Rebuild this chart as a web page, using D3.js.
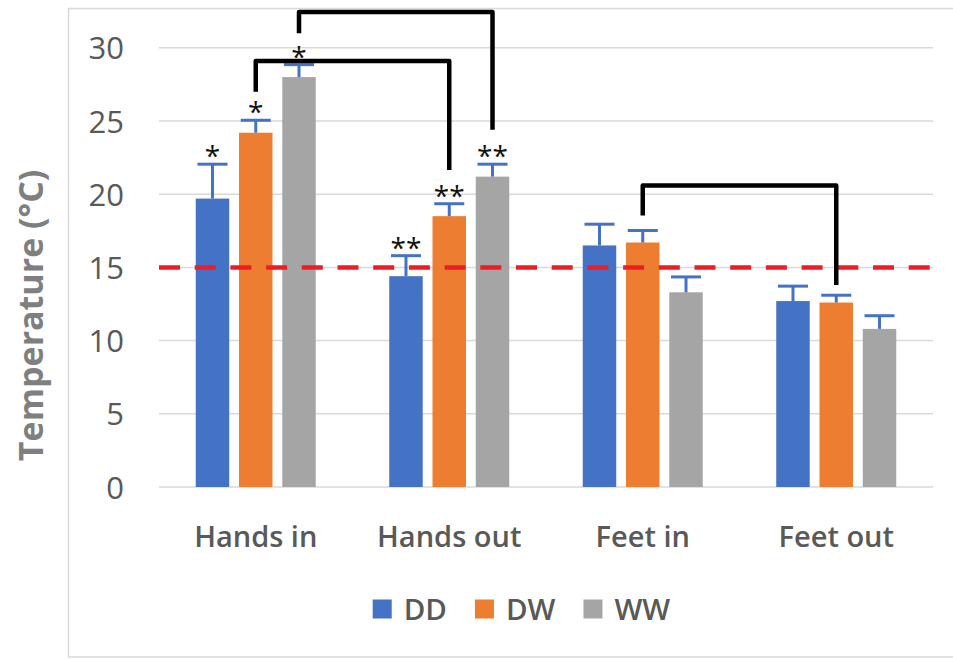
<!DOCTYPE html>
<html>
<head>
<meta charset="utf-8">
<script src="https://cdn.jsdelivr.net/npm/d3@7/dist/d3.min.js"></script>
<style>
  html, body { margin: 0; padding: 0; background: #fff; }
  svg { display: block; font-family: "Open Sans", "Noto Sans", sans-serif; }
</style>
</head>
<body>
<svg id="chart" width="953" height="659"></svg>
<script>
// Skin temperature by site and condition
const categories = ["Hands in", "Hands out", "Feet in", "Feet out"];
const series = ["DD", "DW", "WW"];
const colors = ["#4472c4", "#ed7d31", "#a5a5a5"];

// mean temperature (°C), one row per category, columns follow `series`
const means = [
  [19.7, 24.2, 28.0],
  [14.4, 18.5, 21.2],
  [16.5, 16.7, 13.3],
  [12.7, 12.6, 10.8]
];
// upper error (°C)
const errors = [
  [2.35, 0.85, 0.85],
  [1.40, 0.85, 0.85],
  [1.45, 0.82, 1.05],
  [1.02, 0.50, 0.90]
];
// significance marks above each bar
const marks = [
  ["*", "*", "*"],
  ["**", "**", "**"],
  ["", "", ""],
  ["", "", ""]
];
// comparison brackets: endpoints (category, series), bracket level and end levels in °C
const brackets = [
  { from: ["Hands in", "WW"], to: ["Hands out", "WW"], level: 32.45, fromEnd: 31.0, toEnd: 24.4 },
  { from: ["Hands in", "DW"], to: ["Hands out", "DW"], level: 29.1, fromEnd: 27.0, toEnd: 21.65 },
  { from: ["Feet in", "DW"], to: ["Feet out", "DW"], level: 20.6, fromEnd: 18.55, toEnd: 13.8 }
];
const threshold = 15;
const yTicks = [0, 5, 10, 15, 20, 25, 30];

const svg = d3.select("#chart");

// chart frame
svg.append("rect")
  .attr("x", 68.5).attr("y", 8.5)
  .attr("width", 960).attr("height", 648.5)
  .attr("fill", "none").attr("stroke", "#d9d9d9").attr("stroke-width", 1.5);

const left = 159, right = 933;
const y = d3.scaleLinear().domain([0, 30]).range([487, 47.8]);
const x0 = d3.scaleBand().domain(categories).range([left, right]).padding(0);
const x1 = d3.scaleBand().domain(series).range([-60, 60]).paddingInner(0.226).paddingOuter(0);

// gridlines
svg.append("g")
  .selectAll("line")
  .data(yTicks)
  .join("line")
  .attr("x1", left).attr("x2", right)
  .attr("y1", d => y(d)).attr("y2", d => y(d))
  .attr("stroke", "#d9d9d9").attr("stroke-width", 1.5);

// y axis labels
const yAxis = d3.axisLeft(y).tickValues(yTicks).tickSize(0).tickPadding(0);
const yg = svg.append("g").attr("transform", "translate(124,0)").call(yAxis);
yg.select(".domain").remove();
yg.selectAll("text")
  .attr("font-family", "'Open Sans', sans-serif")
  .attr("font-size", 31)
  .attr("font-weight", 500)
  .attr("fill", "#595959")
  .attr("dy", "0.36em");

// y axis title
svg.append("text")
  .attr("transform", `translate(43,${(y(0) + y(30)) / 2 + 48}) rotate(-90)`)
  .attr("text-anchor", "middle")
  .attr("font-size", 34)
  .attr("font-weight", 700)
  .attr("fill", "#7f7f7f")
  .text("Temperature (°C)");

// x axis labels
const xAxis = d3.axisBottom(x0).tickSize(0).tickPadding(0);
const xg = svg.append("g").attr("transform", `translate(0,${y(0)})`).call(xAxis);
xg.select(".domain").remove();
xg.selectAll("text")
  .attr("font-family", "'Open Sans', sans-serif")
  .attr("font-size", 29)
  .attr("font-weight", 600)
  .attr("fill", "#595959")
  .attr("dy", null)
  .attr("y", 60);

// rows of bar records
const rows = categories.flatMap((c, i) => series.map((s, j) => ({
  cat: c, ser: s, value: means[i][j], err: errors[i][j], mark: marks[i][j], color: colors[j]
})));
const cx = d => x0(d.cat) + x0.bandwidth() / 2 + x1(d.ser) + x1.bandwidth() / 2;

// bars
svg.append("g")
  .selectAll("rect")
  .data(rows)
  .join("rect")
  .attr("x", d => cx(d) - x1.bandwidth() / 2)
  .attr("width", x1.bandwidth())
  .attr("y", d => y(d.value))
  .attr("height", d => y(0) - y(d.value))
  .attr("fill", d => d.color);

// threshold line
svg.append("line")
  .attr("x1", left).attr("x2", right)
  .attr("y1", y(threshold)).attr("y2", y(threshold))
  .attr("stroke", "#ee1c24").attr("stroke-width", 4.5)
  .attr("stroke-dasharray", "21,14.7");

// error bars (upper only)
const eb = svg.append("g").attr("stroke", "#4472c4").attr("stroke-width", 3);
eb.selectAll("line.stem")
  .data(rows).join("line").attr("class", "stem")
  .attr("x1", cx).attr("x2", cx)
  .attr("y1", d => y(d.value)).attr("y2", d => y(d.value + d.err));
eb.selectAll("line.cap")
  .data(rows).join("line").attr("class", "cap")
  .attr("x1", d => cx(d) - 15).attr("x2", d => cx(d) + 15)
  .attr("y1", d => y(d.value + d.err)).attr("y2", d => y(d.value + d.err));

// significance marks
svg.append("g")
  .selectAll("text")
  .data(rows.filter(d => d.mark))
  .join("text")
  .attr("x", cx)
  .attr("y", d => y(d.value + d.err) + 2)
  .attr("text-anchor", "middle")
  .attr("font-size", 28)
  .attr("font-weight", 500)
  .attr("fill", "#111")
  .text(d => d.mark);

// comparison brackets
const px = (c, s) => x0(c) + x0.bandwidth() / 2 + x1(s) + x1.bandwidth() / 2;
svg.append("g")
  .selectAll("path")
  .data(brackets)
  .join("path")
  .attr("d", b => {
    const xa = px(...b.from), xb = px(...b.to);
    return d3.line()([[xa, y(b.fromEnd)], [xa, y(b.level)], [xb, y(b.level)], [xb, y(b.toEnd)]]);
  })
  .attr("fill", "none").attr("stroke", "#000").attr("stroke-width", 4.5)
  .attr("stroke-linejoin", "round");

// legend
const legend = svg.append("g").attr("transform", "translate(372.7,0)");
let lx = 0;
series.forEach((s, j) => {
  const g = legend.append("g").attr("transform", `translate(${lx},0)`);
  g.append("rect").attr("x", 0).attr("y", 599.5).attr("width", 19).attr("height", 19).attr("fill", colors[j]);
  const t = g.append("text").attr("x", 31).attr("y", 619.5)
    .attr("font-size", 29.5).attr("font-weight", 600).attr("fill", "#595959").text(s);
  lx += 31 + t.node().getComputedTextLength() + 28;
});
</script>
</body>
</html>
